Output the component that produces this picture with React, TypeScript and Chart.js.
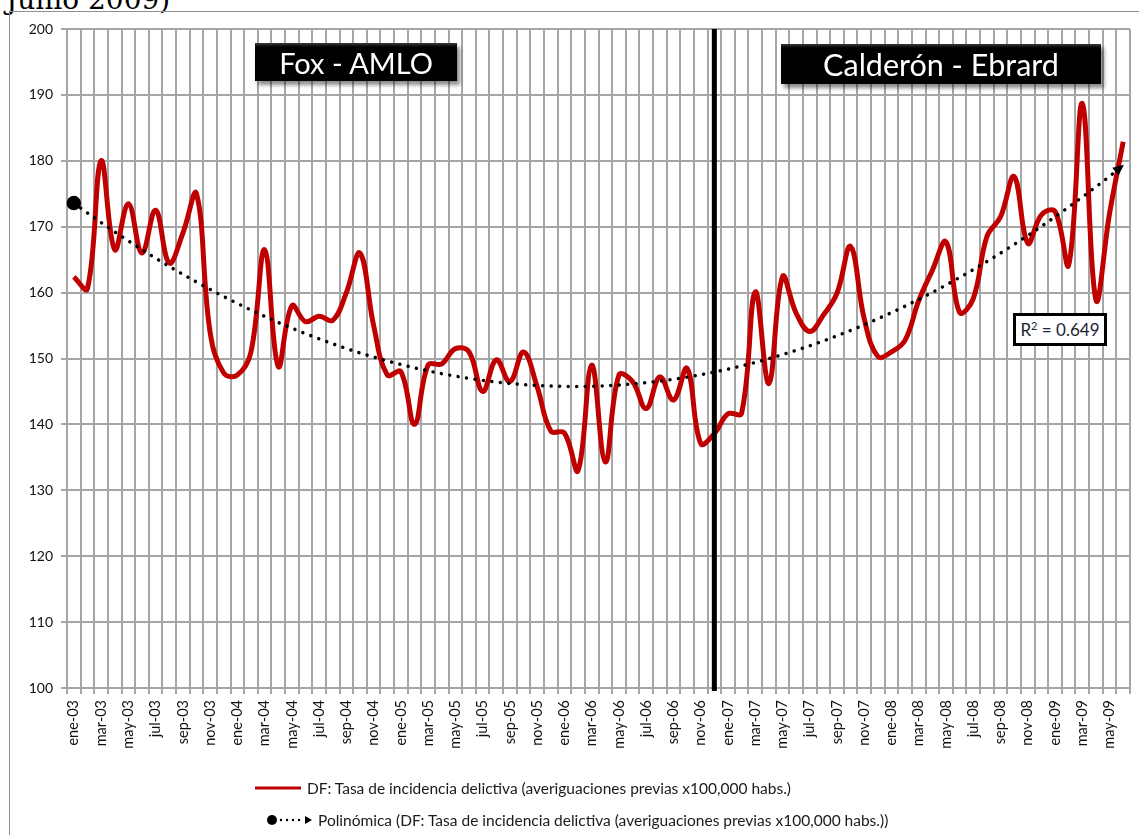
import React, { useEffect, useRef } from "react";
import { Chart, registerables } from "chart.js";

Chart.register(...registerables);

const categories = [
  "ene-03", "feb-03", "mar-03", "abr-03", "may-03", "jun-03", "jul-03", "ago-03", "sep-03", "oct-03", "nov-03", "dic-03",
  "ene-04", "feb-04", "mar-04", "abr-04", "may-04", "jun-04", "jul-04", "ago-04", "sep-04", "oct-04", "nov-04", "dic-04",
  "ene-05", "feb-05", "mar-05", "abr-05", "may-05", "jun-05", "jul-05", "ago-05", "sep-05", "oct-05", "nov-05", "dic-05",
  "ene-06", "feb-06", "mar-06", "abr-06", "may-06", "jun-06", "jul-06", "ago-06", "sep-06", "oct-06", "nov-06", "dic-06",
  "ene-07", "feb-07", "mar-07", "abr-07", "may-07", "jun-07", "jul-07", "ago-07", "sep-07", "oct-07", "nov-07", "dic-07",
  "ene-08", "feb-08", "mar-08", "abr-08", "may-08", "jun-08", "jul-08", "ago-08", "sep-08", "oct-08", "nov-08", "dic-08",
  "ene-09", "feb-09", "mar-09", "abr-09", "may-09", "jun-09",
];

// DF: Tasa de incidencia delictiva (averiguaciones previas x100,000 habs.)
const tasaDelictiva = [
  162.4, 160.6, 180.0, 166.5, 173.5, 166.0, 172.5, 164.5, 169.0, 175.0, 154.0, 147.8,
  147.5, 151.0, 166.5, 148.8, 158.0, 155.6, 156.4, 155.8, 160.0, 166.0, 155.0, 147.5,
  148.0, 140.0, 149.0, 149.2, 151.5, 151.0, 145.0, 149.8, 146.5, 151.0, 145.7, 139.0,
  138.7, 133.0, 149.0, 134.3, 147.5, 146.5, 142.4, 147.2, 143.7, 148.5, 137.1, 138.6,
  141.6, 141.7, 160.1, 146.2, 162.4, 156.9, 154.1, 156.6, 159.9, 167.0, 156.0, 150.3,
  151.0, 152.8, 158.8, 163.4, 167.7, 157.0, 159.1, 168.5, 171.5, 177.6, 167.5, 171.8,
  172.3, 164.2, 188.7, 158.9, 172.0, 182.9,
];

const yTicks = [100, 110, 120, 130, 140, 150, 160, 170, 180, 190, 200];
const periodLabels = ["Fox - AMLO", "Calderón - Ebrard"];
const calderonStart = "dic-06";
const r2Label = "0.649";
const legendLabels = [
  "DF: Tasa de incidencia delictiva (averiguaciones previas x100,000 habs.)",
  "Polinómica (DF: Tasa de incidencia delictiva (averiguaciones previas x100,000 habs.))",
];

// Second-order least-squares trendline of the series (Excel "Polinómica")
function polyTrend(ys: number[]): number[] {
  const n = ys.length;
  let s0 = 0, s1 = 0, s2 = 0, s3 = 0, s4 = 0, t0 = 0, t1 = 0, t2 = 0;
  for (let i = 0; i < n; i++) {
    const x = i + 1;
    const y = ys[i];
    s0 += 1; s1 += x; s2 += x * x; s3 += x * x * x; s4 += x * x * x * x;
    t0 += y; t1 += x * y; t2 += x * x * y;
  }
  const A = [
    [s0, s1, s2, t0],
    [s1, s2, s3, t1],
    [s2, s3, s4, t2],
  ];
  for (let c = 0; c < 3; c++) {
    for (let r = c + 1; r < 3; r++) {
      const f = A[r][c] / A[c][c];
      for (let k = c; k < 4; k++) A[r][k] -= f * A[c][k];
    }
  }
  const coef = [0, 0, 0];
  for (let r = 2; r >= 0; r--) {
    let s = A[r][3];
    for (let k = r + 1; k < 3; k++) s -= A[r][k] * coef[k];
    coef[r] = s / A[r][r];
  }
  return ys.map((_, i) => coef[0] + coef[1] * (i + 1) + coef[2] * (i + 1) * (i + 1));
}

const FONT = "Lato, 'Open Sans', sans-serif";

const overlayPlugin = {
  id: "overlay",
  afterDatasetsDraw(chart: any) {
    const { ctx, chartArea, scales } = chart;
    const x = scales.x;
    const px = x.getPixelForValue(categories.indexOf(calderonStart));
    ctx.save();
    ctx.strokeStyle = "#000";
    ctx.lineWidth = 5;
    ctx.beginPath();
    ctx.moveTo(px, chartArea.top);
    ctx.lineTo(px, chartArea.bottom + 3);
    ctx.stroke();

    // arrowhead at end of trendline
    const meta = chart.getDatasetMeta(1);
    const pts = meta.data;
    const a = pts[pts.length - 2];
    const b = pts[pts.length - 1];
    const ang = Math.atan2(b.y - a.y, b.x - a.x);
    const len = 11;
    const hw = 5;
    ctx.translate(b.x, b.y);
    ctx.rotate(ang);
    ctx.fillStyle = "#000";
    ctx.beginPath();
    ctx.moveTo(1, 0);
    ctx.lineTo(1 - len, -hw);
    ctx.lineTo(1 - len, hw);
    ctx.closePath();
    ctx.fill();
    ctx.restore();
  },
};

export default function App() {
  const ref = useRef<HTMLCanvasElement | null>(null);

  useEffect(() => {
    if (!ref.current) return;
    const trend = polyTrend(tasaDelictiva);
    const chart = new Chart(ref.current, {
      type: "line",
      data: {
        labels: categories,
        datasets: [
          {
            label: legendLabels[0],
            data: tasaDelictiva,
            borderColor: "#c00000",
            borderWidth: 5,
            tension: 0.4,
            pointRadius: 0,
            fill: false,
            order: 2,
          },
          {
            label: legendLabels[1],
            data: trend,
            borderColor: "#000",
            borderWidth: 3.5,
            borderDash: [0.01, 8.5],
            borderCapStyle: "round",
            tension: 0,
            pointRadius: trend.map((_, i) => (i === 0 ? 5.5 : 0)),
            pointBackgroundColor: "#000",
            pointBorderColor: "#000",
            fill: false,
            order: 1,
          },
        ],
      },
      options: {
        responsive: false,
        animation: false,
        events: [],
        layout: { padding: { top: 29, right: 7, left: 0, bottom: 0 } },
        plugins: {
          legend: { display: false },
          tooltip: { enabled: false },
        },
        scales: {
          x: {
            type: "category",
            offset: true,
            afterFit: (s: any) => {
              s.height = 835 - 688;
              s.paddingRight = 0;
              s.paddingLeft = 0;
            },
            grid: {
              offset: true,
              color: "#a6a6a6",
              lineWidth: 2,
              tickLength: 6,
              drawTicks: true,
            },
            border: { color: "#a6a6a6", width: 2 },
            ticks: {
              autoSkip: false,
              maxRotation: 90,
              minRotation: 90,
              padding: 6,
              color: "#111",
              font: { family: FONT, size: 14.5 },
              callback: (_v: any, i: number) => (i % 2 === 0 ? categories[i] : ""),
            },
          },
          y: {
            min: yTicks[0],
            max: yTicks[yTicks.length - 1],
            afterFit: (s: any) => {
              s.width = 67;
              s.paddingTop = 0;
              s.paddingBottom = 0;
            },
            afterBuildTicks: (s: any) => {
              s.ticks = yTicks.map((v) => ({ value: v }));
            },
            grid: {
              color: "#a6a6a6",
              lineWidth: 2,
              tickLength: 6,
            },
            border: { color: "#a6a6a6", width: 2 },
            ticks: {
              padding: 8,
              color: "#111",
              font: { family: FONT, size: 14 },
            },
          },
        },
      },
      plugins: [overlayPlugin],
    });
    return () => chart.destroy();
  }, []);

  const boxStyle: React.CSSProperties = {
    position: "absolute",
    background: "linear-gradient(#3a3a3a 0px, #000 4px, #000 100%)",
    color: "#fff",
    fontFamily: FONT,
    display: "flex",
    alignItems: "center",
    justifyContent: "center",
    boxShadow: "3px 4px 4px rgba(0,0,0,0.45)",
    whiteSpace: "nowrap",
  };

  const legendRow: React.CSSProperties = {
    position: "absolute",
    height: 20,
    display: "flex",
    alignItems: "center",
    fontFamily: FONT,
    fontSize: 15.5,
    color: "#1a1a1a",
    whiteSpace: "nowrap",
  };

  return (
    <div
      style={{
        position: "absolute",
        left: 0,
        top: 0,
        width: 1139,
        height: 835,
        overflow: "hidden",
        background: "#fff",
      }}
    >
      <div
        style={{
          position: "absolute",
          left: 6,
          top: -17,
          fontFamily: "'DejaVu Serif', serif",
          fontSize: 28,
          color: "#000",
          whiteSpace: "nowrap",
        }}
      >
        Junio 2009)
      </div>
      <div
        style={{
          position: "absolute",
          left: 9,
          top: 11,
          width: 1200,
          height: 900,
          border: "1px solid #8f8f8f",
        }}
      />
      <canvas
        ref={ref}
        width={1139}
        height={835}
        style={{ position: "absolute", left: 0, top: 0, width: 1139, height: 835 }}
      />
      <div style={{ ...boxStyle, left: 255, top: 43, width: 202, height: 38, fontSize: 29 }}>
        {periodLabels[0]}
      </div>
      <div style={{ ...boxStyle, left: 781, top: 44, width: 320, height: 40, fontSize: 30.5 }}>
        {periodLabels[1]}
      </div>
      <div
        style={{
          position: "absolute",
          left: 1013,
          top: 313,
          width: 88,
          height: 27,
          border: "3px solid #000",
          background: "#fff",
          color: "#1b2433",
          fontFamily: FONT,
          fontSize: 17,
          display: "flex",
          alignItems: "center",
          justifyContent: "center",
          whiteSpace: "nowrap",
        }}
      >
        <span>
          R<sup style={{ fontSize: 11, verticalAlign: "6px" }}>2</sup> = {r2Label}
        </span>
      </div>
      <div style={{ ...legendRow, left: 253, top: 778 }}>
        <svg width={50} height={10} style={{ marginRight: 4 }}>
          <line x1={2} y1={5} x2={48} y2={5} stroke="#c00000" strokeWidth={3} />
        </svg>
        {legendLabels[0]}
      </div>
      <div style={{ ...legendRow, left: 265, top: 810 }}>
        <svg width={50} height={12} style={{ marginRight: 3 }}>
          <circle cx={7} cy={6} r={5} fill="#000" />
          <line
            x1={16}
            y1={6}
            x2={40}
            y2={6}
            stroke="#000"
            strokeWidth={2.5}
            strokeDasharray="0.01 6"
            strokeLinecap="round"
          />
          <path d="M40 2 L47 6 L40 10 Z" fill="#000" />
        </svg>
        {legendLabels[1]}
      </div>
    </div>
  );
}
